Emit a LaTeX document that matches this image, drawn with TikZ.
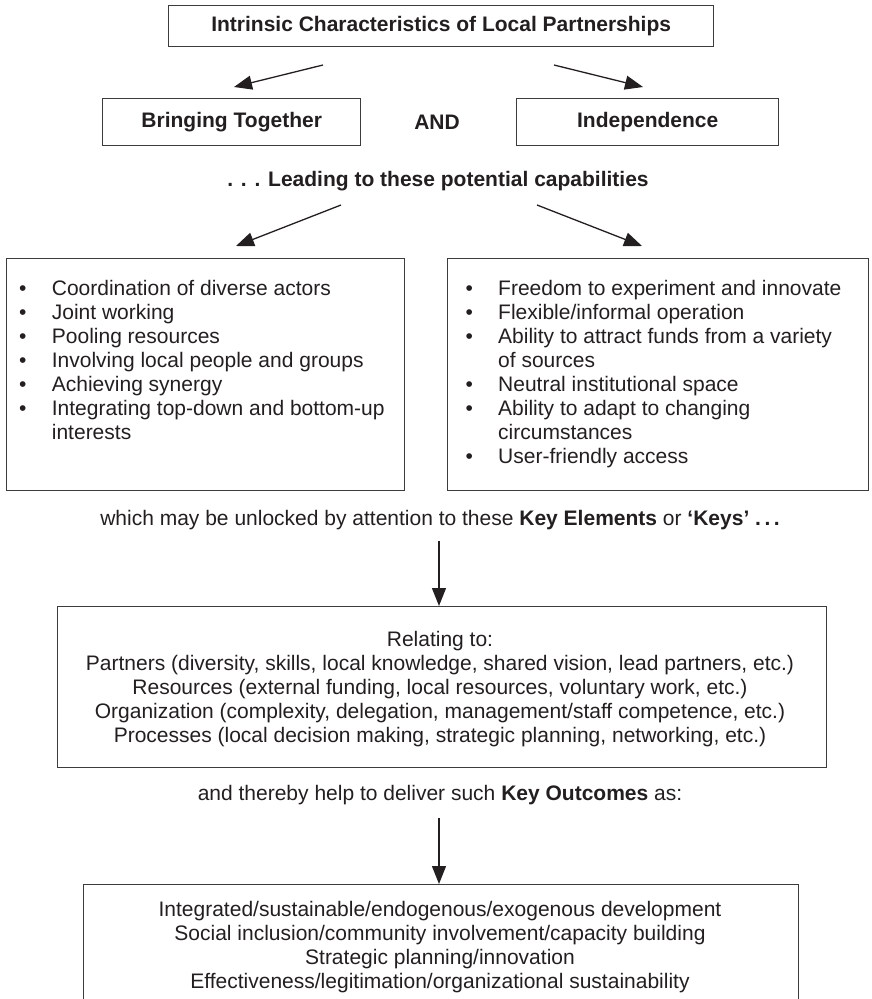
\documentclass[tikz,border=0pt]{standalone}
\usepackage{fontspec}
\setmainfont{Liberation Sans}
\usetikzlibrary{arrows.meta}
\definecolor{ink}{HTML}{231F20}
\definecolor{rule}{HTML}{3C3C3C}
\begin{document}
\begin{tikzpicture}[x=1pt,y=-1pt,
  frame/.style={draw=rule, line width=1.4pt, inner sep=0pt, anchor=north west, text=ink,
                font=\fontsize{21}{24}\selectfont},
  txt/.style={inner sep=0pt, anchor=base, text=ink, font=\fontsize{21}{24}\selectfont},
  link/.style={draw=ink, line width=1.3pt, -{Triangle[length=18pt,width=14pt]}},
]
\useasboundingbox (0,0) rectangle (871,999);
\clip (0,0) rectangle (871,999);

% heading row
\node[frame, minimum width=545pt, minimum height=41pt] (intrinsic) at (168,5)
  {\bfseries Intrinsic Characteristics of Local Partnerships};
\node[frame, minimum width=258pt, minimum height=47pt] (bringing) at (102,98)
  {\bfseries Bringing Together};
\node[frame, minimum width=262pt, minimum height=47pt] (independence) at (516,98)
  {\bfseries Independence};
\node[txt] (and) at (437,129) {\bfseries AND};

\coordinate (s1) at (323,65);  \coordinate (e1) at (234,87);
\coordinate (s2) at (554,65);  \coordinate (e2) at (643,87);
\draw[link] (s1) -- (e1);
\draw[link] (s2) -- (e2);

% capabilities
\node[txt] (leading) at (438,186) {\bfseries . . . Leading to these potential capabilities};
\coordinate (s3) at (341,205); \coordinate (e3) at (236,246);
\coordinate (s4) at (537,205); \coordinate (e4) at (642,246);
\draw[link] (s3) -- (e3);
\draw[link] (s4) -- (e4);

\node[frame, minimum width=398pt, minimum height=232pt] (together) at (6,258) {};
\node[frame, minimum width=421pt, minimum height=232pt] (apart) at (447,258) {};

\node[txt, anchor=base west] (togetherlist) at (19,295) {%
  \begin{tabular}[t]{@{}l@{}l@{}}
  \makebox[32.7pt][l]{\textbullet} & Coordination of diverse actors\\
  \textbullet & Joint working\\
  \textbullet & Pooling resources\\
  \textbullet & Involving local people and groups\\
  \textbullet & Achieving synergy\\
  \textbullet & Integrating top-down and bottom-up\\
              & interests
  \end{tabular}};

\node[txt, anchor=base west] (apartlist) at (465.3,295) {%
  \begin{tabular}[t]{@{}l@{}l@{}}
  \makebox[32.7pt][l]{\textbullet} & Freedom to experiment and innovate\\
  \textbullet & Flexible/informal operation\\
  \textbullet & Ability to attract funds from a variety\\
              & of sources\\
  \textbullet & Neutral institutional space\\
  \textbullet & Ability to adapt to changing\\
              & circumstances\\
  \textbullet & User-friendly access
  \end{tabular}};

% key elements
\node[txt] (unlock) at (440,525)
  {which may be unlocked by attention to these \textbf{Key Elements} or \textbf{‘Keys’\ .\,.\,.}};
\node[frame, minimum width=769pt, minimum height=161pt] (keys) at (57,606) {};
\node[txt] (keystext) at (440,646) {%
  \begin{tabular}[t]{@{}c@{}}
  Relating to:\\
  Partners (diversity, skills, local knowledge, shared vision, lead partners, etc.)\\
  Resources (external funding, local resources, voluntary work, etc.)\\
  Organization (complexity, delegation, management/staff competence, etc.)\\
  Processes (local decision making, strategic planning, networking, etc.)
  \end{tabular}};
\coordinate (s5) at (439,541);
\draw[link] (s5) -- (s5 |- keys.north);

% outcomes
\node[txt] (deliver) at (440,800)
  {and thereby help to deliver such \textbf{Key Outcomes} as:};
\node[frame, minimum width=715pt, minimum height=150pt] (outcomes) at (83,884) {};
\node[txt] (outcomestext) at (440,916) {%
  \begin{tabular}[t]{@{}c@{}}
  Integrated/sustainable/endogenous/exogenous development\\
  Social inclusion/community involvement/capacity building\\
  Strategic planning/innovation\\
  Effectiveness/legitimation/organizational sustainability
  \end{tabular}};
\coordinate (s6) at (439,818);
\draw[link] (s6) -- (s6 |- outcomes.north);
\end{tikzpicture}
\end{document}
